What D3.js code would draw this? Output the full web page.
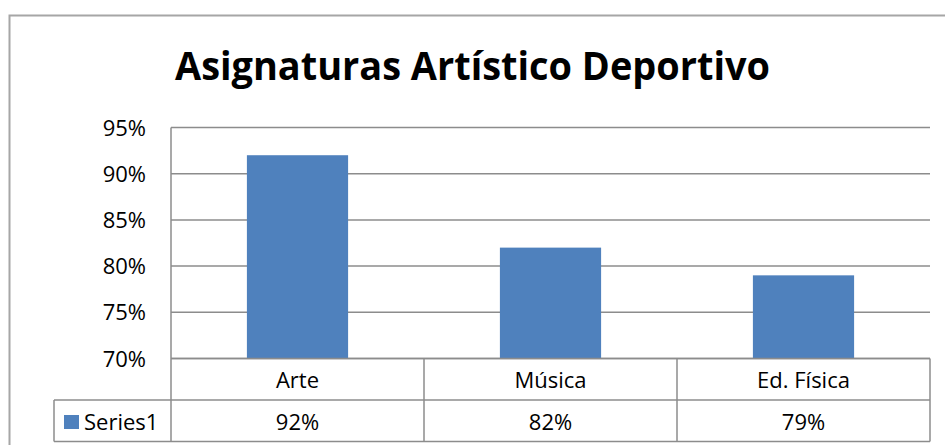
<!DOCTYPE html>
<html>
<head>
<meta charset="utf-8">
<script src="https://cdn.jsdelivr.net/npm/d3@7"></script>
<style>
  body { margin: 0; background: #fff; }
  text { font-family: "Open Sans", "Liberation Sans", sans-serif; fill: #000; }
</style>
</head>
<body>
<svg id="chart" width="945" height="445"></svg>
<script>
const categories = ["Arte", "Música", "Ed. Física"];
const values = [0.92, 0.82, 0.79];
const seriesName = "Series1";
const yTicks = [0.70, 0.75, 0.80, 0.85, 0.90, 0.95];

const svg = d3.select("#chart");
const gridColor = "#8c8c8c";
const barColor = "#4f81bd";
const fs = 22;

// outer frame
svg.append("path")
    .attr("d", "M9.5,445 V15.5 H945")
    .attr("fill", "none")
    .attr("stroke", "#a6a6a6")
    .attr("stroke-width", 2);

// title
svg.append("text")
    .attr("x", 175)
    .attr("y", 80)
    .attr("font-size", 40)
    .attr("font-weight", "bold")
    .attr("textLength", 595)
    .attr("lengthAdjust", "spacingAndGlyphs")
    .text("Asignaturas Artístico Deportivo");

const plotL = 171, plotR = 930, plotT = 127.5, plotB = 358.5;
const rowH = 41.5;

const x = d3.scaleBand().domain(categories).range([plotL, plotR]).paddingInner(0).paddingOuter(0);
const y = d3.scaleLinear().domain([0.70, 0.95]).range([plotB, plotT]);

// gridlines
svg.append("g").selectAll("line")
    .data(yTicks)
    .join("line")
    .attr("x1", plotL).attr("x2", plotR)
    .attr("y1", d => y(d)).attr("y2", d => y(d))
    .attr("stroke", gridColor)
    .attr("stroke-width", 1.5);

// y axis labels
svg.append("g").selectAll("text")
    .data(yTicks)
    .join("text")
    .attr("x", 146)
    .attr("y", d => y(d) + 8)
    .attr("text-anchor", "end")
    .attr("font-size", fs)
    .text(d => d3.format(".0%")(d));

// bars
const bw = x.bandwidth() * 0.4;
svg.append("g").selectAll("rect")
    .data(values)
    .join("rect")
    .attr("x", (d, i) => x(categories[i]) + x.bandwidth() / 2 - bw / 2)
    .attr("y", d => y(d))
    .attr("width", bw)
    .attr("height", d => y(0.70) - y(d))
    .attr("fill", barColor);

// data table
const tbl = svg.append("g").attr("fill", "none").attr("stroke", gridColor).attr("stroke-width", 1.5);
tbl.append("line").attr("x1", plotL).attr("x2", plotL).attr("y1", plotT).attr("y2", plotB + 2 * rowH);
tbl.append("line").attr("x1", plotL).attr("x2", plotR).attr("y1", plotB).attr("y2", plotB);
tbl.append("line").attr("x1", 54).attr("x2", plotR).attr("y1", plotB + rowH).attr("y2", plotB + rowH);
tbl.append("line").attr("x1", 54).attr("x2", plotR).attr("y1", plotB + 2 * rowH).attr("y2", plotB + 2 * rowH);
tbl.append("line").attr("x1", 54).attr("x2", 54).attr("y1", plotB + rowH).attr("y2", plotB + 2 * rowH);
tbl.selectAll(".col")
    .data(categories)
    .join("line")
    .attr("x1", d => x(d) + x.bandwidth()).attr("x2", d => x(d) + x.bandwidth())
    .attr("y1", plotB).attr("y2", plotB + 2 * rowH);

svg.append("g").selectAll("text")
    .data(categories)
    .join("text")
    .attr("x", d => x(d) + x.bandwidth() / 2)
    .attr("y", plotB + 29)
    .attr("text-anchor", "middle")
    .attr("font-size", fs)
    .text(d => d);

svg.append("g").selectAll("text")
    .data(values)
    .join("text")
    .attr("x", (d, i) => x(categories[i]) + x.bandwidth() / 2)
    .attr("y", plotB + rowH + 30)
    .attr("text-anchor", "middle")
    .attr("font-size", fs)
    .text(d => d3.format(".0%")(d));

// legend key
svg.append("rect")
    .attr("x", 64).attr("y", plotB + rowH + 15)
    .attr("width", 15).attr("height", 14)
    .attr("fill", barColor);
svg.append("text")
    .attr("x", 84)
    .attr("y", plotB + rowH + 30)
    .attr("font-size", fs)
    .text(seriesName);
</script>
</body>
</html>
